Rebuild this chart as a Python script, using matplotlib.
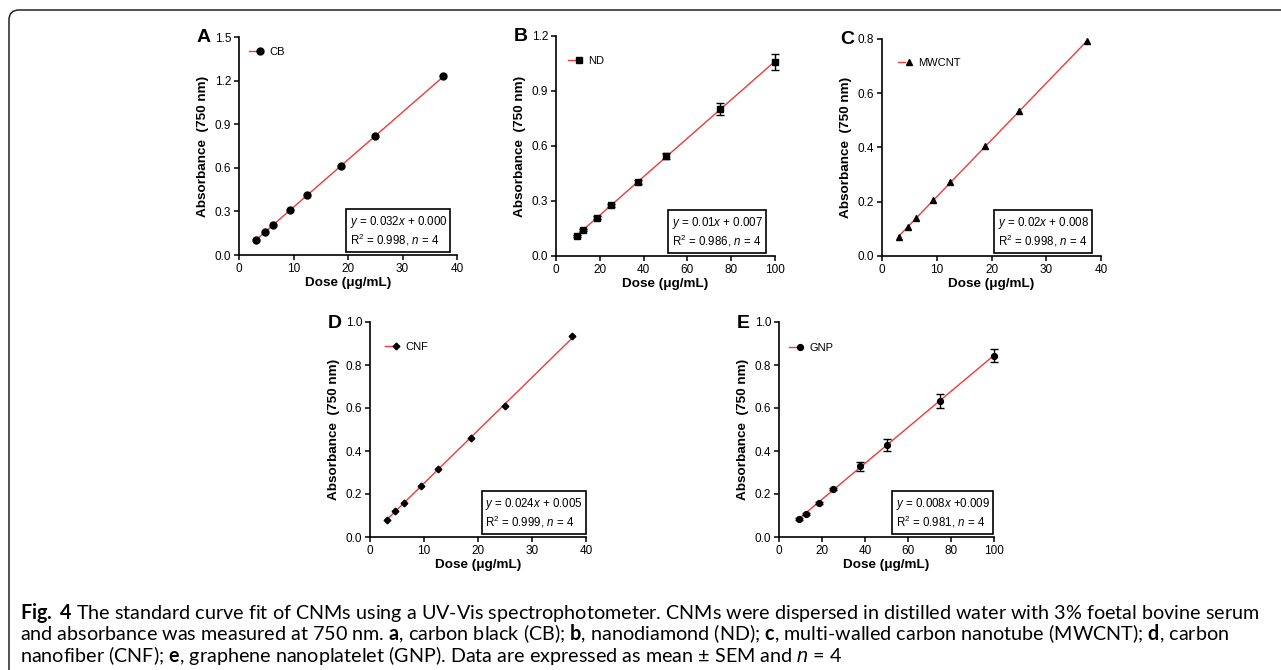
import matplotlib
matplotlib.use('Agg')
import matplotlib.pyplot as plt
import numpy as np
from matplotlib.patches import FancyBboxPatch
from matplotlib.transforms import IdentityTransform
from matplotlib.legend_handler import HandlerTuple

plt.rcParams['font.family'] = ['Liberation Sans', 'DejaVu Sans']
plt.rcParams['mathtext.fontset'] = 'custom'
plt.rcParams['mathtext.rm'] = 'Liberation Sans'
plt.rcParams['mathtext.it'] = 'Liberation Sans:italic'
plt.rcParams['mathtext.bf'] = 'Lato:bold'

# doses (ug/mL)
low_dose = [3.125, 4.6875, 6.25, 9.375, 12.5, 18.75, 25, 37.5]
high_dose = [9.375, 12.5, 18.75, 25, 37.5, 50, 75, 100]

# absorbance at 750 nm, mean and SEM
cb_abs = [0.105, 0.155, 0.208, 0.309, 0.412, 0.613, 0.816, 1.23]
cb_sem = [0.003, 0.003, 0.004, 0.004, 0.005, 0.006, 0.007, 0.008]
nd_abs = [0.109, 0.142, 0.209, 0.276, 0.404, 0.544, 0.802, 1.058]
nd_sem = [0.006, 0.007, 0.008, 0.008, 0.012, 0.016, 0.035, 0.042]
mw_abs = [0.071, 0.106, 0.139, 0.206, 0.274, 0.404, 0.534, 0.791]
mw_sem = [0.002, 0.002, 0.003, 0.003, 0.004, 0.004, 0.005, 0.005]
cnf_abs = [0.080, 0.119, 0.159, 0.238, 0.315, 0.462, 0.607, 0.934]
cnf_sem = [0.002, 0.003, 0.003, 0.004, 0.004, 0.005, 0.005, 0.006]
gnp_abs = [0.085, 0.108, 0.158, 0.224, 0.329, 0.428, 0.632, 0.844]
gnp_sem = [0.004, 0.005, 0.006, 0.006, 0.021, 0.026, 0.034, 0.032]

cb_fit = ['$y$ = 0.032$x$ + 0.000', 'R$^2$ = 0.998, $n$ = 4']
nd_fit = ['$y$ = 0.01$x$ + 0.007', 'R$^2$ = 0.986, $n$ = 4']
mw_fit = ['$y$ = 0.02$x$ + 0.008', 'R$^2$ = 0.998, $n$ = 4']
cnf_fit = ['$y$ = 0.024$x$ + 0.005', 'R$^2$ = 0.999, $n$ = 4']
gnp_fit = ['$y$ = 0.008$x$ +0.009', 'R$^2$ = 0.981, $n$ = 4']

caption = [
    r'$\mathbf{Fig.}$ $\mathbf{4}$ The standard curve fit of CNMs using a UV-Vis spectrophotometer. '
    r'CNMs were dispersed in distilled water with 3% foetal bovine serum',
    r'and absorbance was measured at 750 nm. $\mathbf{a}$, carbon black (CB); $\mathbf{b}$, '
    r'nanodiamond (ND); $\mathbf{c}$, multi-walled carbon nanotube (MWCNT); $\mathbf{d}$, carbon',
    r'nanofiber (CNF); $\mathbf{e}$, graphene nanoplatelet (GNP). Data are expressed as '
    r'mean ± SEM and $n$ = 4',
]

W, H = 1281, 670
fig = plt.figure(figsize=(W / 100, H / 100), dpi=100)

red = '#ee3a3a'

# letter, axes box px (left, top, w, h), x, y, sem, marker, size, cap, name,
# ymax, ystep, xmax, xstep, fit text, legend pos px, fit box left px
panels = [
    ('A', (239, 37, 218, 218), low_dose, cb_abs, cb_sem, 'o', 5.0, 2.0, 'CB', 1.5, 0.3, 40, 10, cb_fit, (10, 15), 107),
    ('B', (556, 36, 219, 220), high_dose, nd_abs, nd_sem, 's', 4.6, 2.6, 'ND', 1.2, 0.3, 100, 20, nd_fit, (12, 25), 112),
    ('C', (882, 39, 219, 217), low_dose, mw_abs, mw_sem, '^', 5.0, 0, 'MWCNT', 0.8, 0.2, 40, 10, mw_fit, (16, 24), 112),
    ('D', (370, 322, 216, 215), low_dose, cnf_abs, cnf_sem, 'D', 3.4, 0, 'CNF', 1.0, 0.2, 40, 10, cnf_fit, (15, 25), 112),
    ('E', (779, 322, 215, 215), high_dose, gnp_abs, gnp_sem, 'o', 4.2, 2.6, 'GNP', 1.0, 0.2, 100, 20, gnp_fit, (10, 26), 113),
]

for (letter, box, dose, ab, sem, mk, ms, cap, name, ymax, ystep, xmax, xstep, fit, lpos, fx) in panels:
    l, t, w, h = box
    ax = fig.add_axes([l / W, (H - t - h) / H, w / W, h / H])

    slope, icpt = np.polyfit(dose, ab, 1)
    xs = np.array([min(dose), max(dose)])
    line, = ax.plot(xs, slope * xs + icpt, color=red, lw=1.0, zorder=2)
    eb = ax.errorbar(dose, ab, yerr=sem if cap else None, fmt=mk, ms=ms, color='black',
                     ecolor='black', elinewidth=1.0, capsize=cap, capthick=1.0,
                     zorder=3, clip_on=False)

    ax.set_xlim(0, xmax)
    ax.set_ylim(0, ymax)
    ax.set_xticks(np.arange(0, xmax + 1, xstep))
    yt = np.arange(0, ymax + 1e-6, ystep)
    ax.set_yticks(yt)
    ax.set_yticklabels(['%.1f' % v for v in yt])
    for s in ['top', 'right']:
        ax.spines[s].set_visible(False)
    for s in ['left', 'bottom']:
        ax.spines[s].set_linewidth(1.2)
    ax.tick_params(direction='out', length=3.5, width=1.1, labelsize=8.5, pad=2)

    ax.set_xlabel('Dose (μg/mL)', fontsize=9.7, fontweight='bold', labelpad=2)
    ax.set_ylabel('Absorbance  (750 nm)', fontsize=9.7, fontweight='bold', labelpad=4)

    ax.legend([(line, eb[0])], [name], handler_map={tuple: HandlerTuple(ndivide=None, pad=0)},
              loc='center left', bbox_to_anchor=(lpos[0] / w, 1 - lpos[1] / h),
              frameon=False, fontsize=8, handlelength=1.3, handletextpad=0.5,
              borderpad=0, borderaxespad=0)

    ax.text((fx + 3.5) / w, 6.5 / h, fit[0] + '\n' + fit[1], transform=ax.transAxes,
            ha='left', va='bottom', fontsize=8.3, linespacing=1.2,
            bbox=dict(boxstyle='square,pad=0.3', fc='white', ec='black', lw=1.2))

    ax.annotate(letter, xy=(0, 1), xycoords='axes fraction', xytext=(-42 * 0.72, -1 * 0.72),
                textcoords='offset points', ha='left', va='center',
                fontsize=14, fontweight='bold')

# caption, sized so the first line fills the frame width
cap_texts = []
for i, s in enumerate(caption):
    cap_texts.append(fig.text(20 / W, 1 - (619 + 21.5 * i) / H, s, family='Lato',
                              fontsize=12, ha='left', va='baseline'))
fig.canvas.draw()
wid = cap_texts[0].get_window_extent().width
for ct in cap_texts:
    ct.set_fontsize(12 * 1238 / wid)

# rounded frame, only top and left edges visible
fig.patches.append(FancyBboxPatch((9, -60), 1400, H - 10 + 60,
                                  boxstyle='round,pad=0,rounding_size=10',
                                  transform=IdentityTransform(), fc='none',
                                  ec='#222222', lw=1.1))

fig.savefig('out.png', dpi=100)
